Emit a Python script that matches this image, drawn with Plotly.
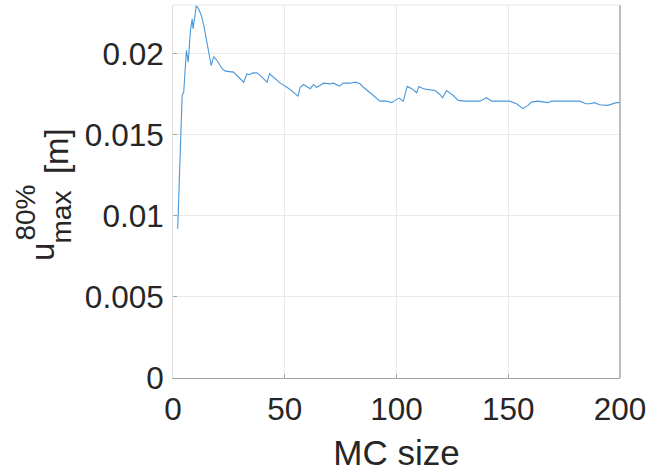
import plotly.graph_objects as go

mc_size = [2.1, 3.3, 4.1, 4.8, 6.0, 6.8, 7.8, 8.6, 9.0, 10.4, 11.5, 12.7, 13.8, 15.3, 16.4, 17.1,
           18.2, 19.7, 22.0, 23.4, 27.1, 29.4, 31.6, 33.1, 34.3, 35.4, 37.6, 39.8, 42.1, 43.2,
           45.8, 48.0, 51.0, 53.9, 55.9, 56.9, 58.4, 61.4, 62.9, 64.1, 65.8, 67.3, 70.3, 71.8,
           74.5, 76.2, 79.2, 81.5, 83.7, 85.2, 88.2, 91.2, 92.6, 95.6, 97.9, 99.3, 101.2, 103.0,
           104.8, 106.8, 109.0, 110.0, 112.0, 114.2, 117.2, 119.1, 120.6, 122.4, 125.4, 127.6,
           130.6, 137.3, 138.8, 140.3, 142.5, 146.2, 150.7, 153.7, 156.6, 158.8, 160.4, 163.3,
           167.8, 169.3, 176.0, 181.9, 184.9, 186.4, 188.6, 190.8, 194.6, 196.8, 198.3, 200.0]
u_max80 = [0.0092, 0.0148, 0.01742, 0.01763, 0.0202, 0.01947, 0.02142, 0.02214, 0.02152, 0.02296,
           0.02275, 0.02234, 0.02173, 0.0206, 0.01978, 0.01927, 0.01982, 0.01958, 0.01907, 0.01892,
           0.01886, 0.01855, 0.01824, 0.01876, 0.0187, 0.0188, 0.01882, 0.01855, 0.01824, 0.01876,
           0.01845, 0.01818, 0.01793, 0.01763, 0.01736, 0.01793, 0.0181, 0.01784, 0.0181, 0.01793,
           0.01804, 0.01818, 0.01814, 0.01818, 0.018, 0.01818, 0.01818, 0.01824, 0.01814, 0.01793,
           0.01759, 0.01722, 0.01707, 0.01707, 0.01698, 0.01712, 0.01726, 0.01706, 0.01798, 0.01784,
           0.01759, 0.01798, 0.01784, 0.01778, 0.01773, 0.01753, 0.01728, 0.01773, 0.01742, 0.01712,
           0.01707, 0.01707, 0.01716, 0.01728, 0.01707, 0.01707, 0.01707, 0.01691, 0.01661, 0.01681,
           0.01701, 0.01707, 0.01698, 0.01707, 0.01707, 0.01707, 0.01691, 0.01691, 0.01698, 0.01685,
           0.01681, 0.01691, 0.01698, 0.01698]

x_ticks = [0, 50, 100, 150, 200]
y_ticks = [0, 0.005, 0.01, 0.015, 0.02]
y_tick_labels = ["0", "0.005", "0.01", "0.015", "0.02"]

FONT = "Liberation Sans, Arial, sans-serif"
TXT = "#262626"

fig = go.Figure()
fig.add_trace(go.Scatter(x=mc_size, y=u_max80, mode="lines",
                         line=dict(color="#4a98db", width=1.1), showlegend=False))

W, H = 668, 474
L, R, T, B = 172.5, 47.5, 5, 95.5
pw, ph = W - L - R, H - T - B

def px(xp):
    return (xp - L) / pw

def py(yp):
    return (H - B - yp) / ph

fig.update_layout(
    width=W, height=H,
    margin=dict(l=L, r=R, t=T, b=B, pad=0),
    paper_bgcolor="white", plot_bgcolor="white",
    font=dict(family=FONT, color=TXT),
    xaxis=dict(range=[0, 200], tickvals=x_ticks, showgrid=True, gridcolor="#ebebeb",
               gridwidth=1, zeroline=False, showline=True, linecolor="#a6a6a6", linewidth=1,
               mirror=False, ticks="inside", ticklen=4, tickcolor="#a6a6a6",
               ticklabelstandoff=3,
               tickfont=dict(size=31.5, color=TXT, family=FONT),
               title=dict(text="MC size", font=dict(size=35, color=TXT, family=FONT), standoff=14)),
    yaxis=dict(range=[0, 0.023], tickvals=y_ticks, ticktext=y_tick_labels, showgrid=True,
               gridcolor="#ebebeb", gridwidth=1, zeroline=False, showline=True,
               linecolor="#dcdcdc", linewidth=1, ticks="inside", ticklen=4, tickcolor="#a6a6a6",
               ticklabelstandoff=2,
               tickfont=dict(size=31.5, color=TXT, family=FONT)),
    shapes=[
        dict(type="line", xref="paper", yref="paper", x0=1, x1=1, y0=0, y1=1,
             line=dict(color="#a6a6a6", width=1.5)),
        dict(type="line", xref="paper", yref="paper", x0=0, x1=1, y0=1, y1=1,
             line=dict(color="#e6e6e6", width=1)),
    ],
    annotations=[
        dict(text="u", x=px(41.5), y=py(252), xref="paper", yref="paper", showarrow=False,
             textangle=-90, xanchor="center", yanchor="middle",
             font=dict(size=33, color=TXT, family=FONT)),
        dict(text="80%", x=px(25), y=py(213), xref="paper", yref="paper", showarrow=False,
             textangle=-90, xanchor="center", yanchor="middle",
             font=dict(size=28, color=TXT, family=FONT)),
        dict(text="max", x=px(61), y=py(217), xref="paper", yref="paper", showarrow=False,
             textangle=-90, xanchor="center", yanchor="middle",
             font=dict(size=28, color=TXT, family=FONT)),
        dict(text="[m]", x=px(56), y=py(151.5), xref="paper", yref="paper", showarrow=False,
             textangle=-90, xanchor="center", yanchor="middle",
             font=dict(size=33, color=TXT, family=FONT)),
    ],
)

fig.write_html("out.html")
